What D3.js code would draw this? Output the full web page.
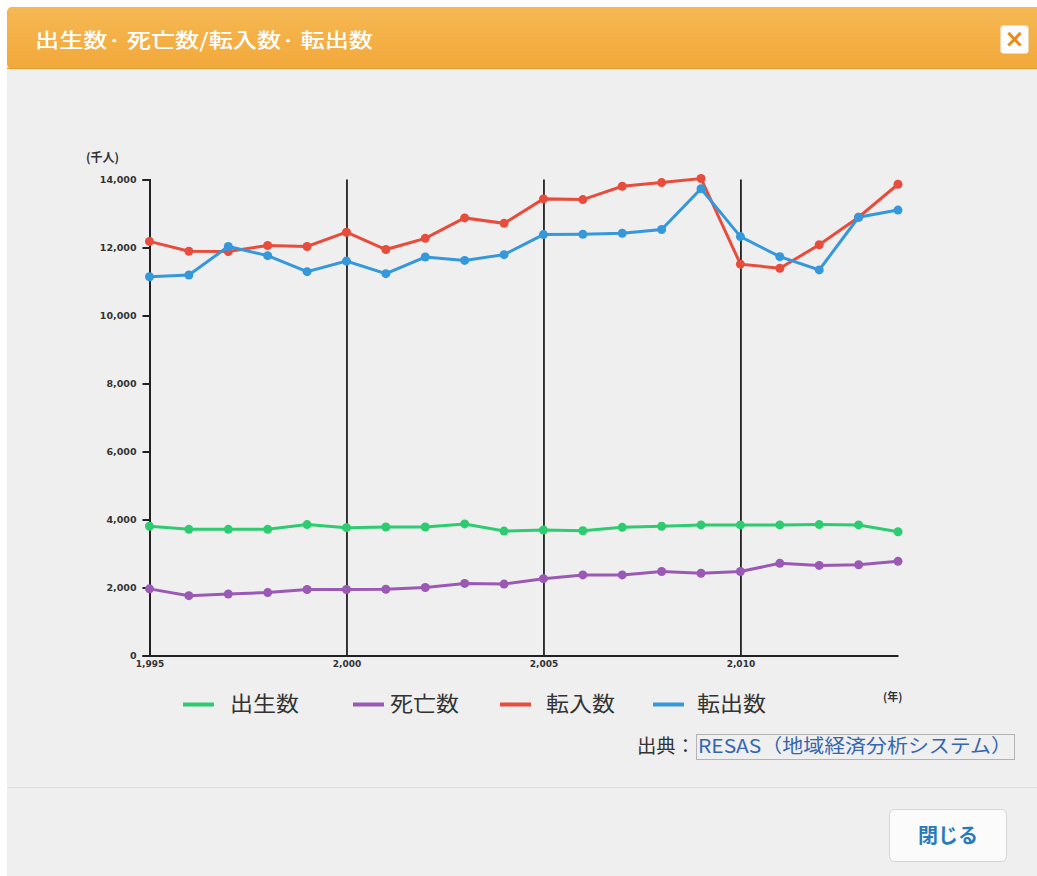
<!DOCTYPE html>
<html><head><meta charset="utf-8">
<script src="https://cdn.jsdelivr.net/npm/d3@7"></script>
<style>
html,body{margin:0;padding:0;background:#fff;}
svg{display:block;}
</style></head>
<body>
<svg id="c" width="1037" height="876"></svg>
<script>
const years = [1995,1996,1997,1998,1999,2000,2001,2002,2003,2004,2005,2006,2007,2008,2009,2010,2011,2012,2013,2014];
const births = [3800,3710,3710,3710,3850,3760,3780,3780,3870,3660,3690,3670,3770,3800,3840,3840,3840,3850,3840,3640];
const deaths = [1960,1760,1810,1850,1940,1940,1950,2000,2120,2100,2260,2370,2370,2470,2420,2470,2710,2650,2670,2770];
const inflow = [12180,11890,11880,12060,12030,12450,11940,12270,12870,12710,13430,13410,13800,13910,14030,11510,11390,12080,12890,13860];
const outflow = [11140,11190,12030,11760,11290,11600,11230,11720,11620,11790,12380,12390,12420,12530,13730,12320,11730,11340,12890,13100];
const seriesNames = ["出生数","死亡数","転入数","転出数"];
const seriesColors = ["#2ecc71","#9b59b6","#e74c3c","#3498db"];
const yTicks = [0,2000,4000,6000,8000,10000,12000,14000];
const xTicks = [1995,2000,2005,2010];
const titleText = "出生数· 死亡数/転入数· 転出数";
const yUnit = "(千人)";
const xUnit = "(年)";
const sourceLabel = "出典：";
const sourceLink = "RESAS（地域経済分析システム）";
const closeLabel = "閉じる";

const svg = d3.select("#c");
const defs = svg.append("defs");
const g1 = defs.append("linearGradient").attr("id","hdr").attr("x1",0).attr("y1",0).attr("x2",0).attr("y2",1);
g1.append("stop").attr("offset","0%").attr("stop-color","#f6b853");
g1.append("stop").attr("offset","100%").attr("stop-color","#f2a83a");

// panel
svg.append("rect").attr("x",7).attr("y",7).attr("width",1040).attr("height",880).attr("rx",5).attr("fill","#efefef");
// header
svg.append("rect").attr("x",7).attr("y",7).attr("width",1040).attr("height",62).attr("rx",5).attr("fill","url(#hdr)");
svg.append("line").attr("x1",7).attr("x2",1037).attr("y1",68.5).attr("y2",68.5).attr("stroke","#e49a2e").attr("stroke-width",1);
svg.append("text").attr("x",35).attr("y",48).attr("fill","#fff").attr("font-family","Noto Sans CJK JP")
  .attr("font-size",20).attr("font-weight",500).attr("textLength",338).attr("lengthAdjust","spacingAndGlyphs").text(titleText);
// close btn
svg.append("rect").attr("x",1000.5).attr("y",25.5).attr("width",28).attr("height",28).attr("rx",3).attr("fill","#fcfcfc").attr("stroke","#f0d6a8");
svg.append("text").attr("x",1014.5).attr("y",47).attr("text-anchor","middle").attr("fill","#ee8a12")
  .attr("font-family","DejaVu Sans").attr("font-weight","bold").attr("font-size",24).text("×");

// footer separator
svg.append("line").attr("x1",7).attr("x2",1037).attr("y1",787.5).attr("y2",787.5).attr("stroke","#dedede");

// chart scales
const x = d3.scaleLinear().domain([1995,2014]).range([149.5,898]);
const y = d3.scaleLinear().domain([0,14000]).range([655.5,179.5]);

const xAxis = svg.append("g").attr("transform","translate(0,655.5)")
  .call(d3.axisBottom(x).tickValues(xTicks).tickFormat(d3.format(",")).tickSizeInner(-476).tickSizeOuter(0).tickPadding(4));
xAxis.select(".domain").attr("stroke","#222").attr("stroke-width",2);
xAxis.selectAll(".tick line").attr("stroke","#222").attr("stroke-width",1.8);
xAxis.selectAll(".tick text").attr("font-family","DejaVu Sans").attr("font-weight","bold").attr("font-size",9).attr("fill","#333").attr("dy","0.85em");

const yAxis = svg.append("g").attr("transform","translate(149.5,0)")
  .call(d3.axisLeft(y).tickValues(yTicks).tickFormat(d3.format(",")).tickSize(7).tickPadding(6));
yAxis.select(".domain").attr("stroke","#222").attr("stroke-width",2);
yAxis.selectAll(".tick line").attr("stroke","#222").attr("stroke-width",2);
yAxis.selectAll(".tick text").attr("font-family","DejaVu Sans").attr("font-weight","bold").attr("font-size",9.5).attr("fill","#333");

svg.append("text").attr("x",86).attr("y",162).attr("font-family","Noto Sans CJK JP").attr("font-weight","bold")
  .attr("font-size",12).attr("fill","#333").text(yUnit);
svg.append("text").attr("x",883).attr("y",701).attr("font-family","Noto Sans CJK JP").attr("font-weight","bold")
  .attr("font-size",11).attr("fill","#333").text(xUnit);

// series
const allSeries = [births, deaths, inflow, outflow];
const line = d3.line().x((d,i)=>x(years[i])).y(d=>y(d));
allSeries.forEach((vals,k)=>{
  const g = svg.append("g");
  g.append("path").datum(vals).attr("d",line).attr("fill","none").attr("stroke",seriesColors[k]).attr("stroke-width",3);
  g.selectAll("circle").data(vals).join("circle").attr("cx",(d,i)=>x(years[i])).attr("cy",d=>y(d)).attr("r",4.5).attr("fill",seriesColors[k]);
});

// legend
const legX = [183,353,500,653];
const legTX = [230,390,546,697];
seriesNames.forEach((n,k)=>{
  svg.append("line").attr("x1",legX[k]).attr("x2",legX[k]+31).attr("y1",704.5).attr("y2",704.5).attr("stroke",seriesColors[k]).attr("stroke-width",4);
  svg.append("text").attr("x",legTX[k]).attr("y",711).attr("font-family","Noto Sans CJK JP").attr("font-size",21)
    .attr("fill","#333").attr("textLength",69).attr("lengthAdjust","spacingAndGlyphs").text(n);
});

// source
svg.append("text").attr("x",637).attr("y",753).attr("font-family","Noto Sans CJK JP").attr("font-size",19).attr("fill","#333")
  .attr("textLength",58).attr("lengthAdjust","spacingAndGlyphs").text(sourceLabel);
svg.append("rect").attr("x",696.5).attr("y",734.5).attr("width",318).attr("height",25).attr("fill","none").attr("stroke","#777").attr("stroke-dasharray","1,1");
svg.append("text").attr("x",698).attr("y",753).attr("font-family","Noto Sans CJK JP").attr("font-size",19).attr("fill","#3567b0")
  .attr("textLength",314).attr("lengthAdjust","spacingAndGlyphs").text(sourceLink);

// close button
svg.append("rect").attr("x",889.5).attr("y",809.5).attr("width",117).attr("height",52).attr("rx",5).attr("fill","#fbfbfb").attr("stroke","#d4d4d4");
svg.append("text").attr("x",948).attr("y",843).attr("text-anchor","middle").attr("font-family","Noto Sans CJK JP").attr("font-weight","bold")
  .attr("font-size",20).attr("fill","#2b7bb9").text(closeLabel);
</script>
</body></html>
